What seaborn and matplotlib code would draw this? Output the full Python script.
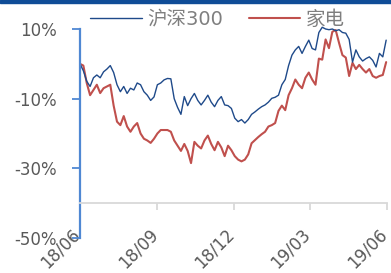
import numpy as np
import pandas as pd
import matplotlib
matplotlib.use("Agg")
import matplotlib.pyplot as plt
import matplotlib.dates as mdates
import matplotlib.transforms as mtransforms
from matplotlib.patches import Rectangle
import seaborn as sns

# 每4天一个观测点（从图中读取的累计涨跌幅，%）
dates = pd.date_range("2018-06-01", periods=92, freq="4D")

hs300 = [0, -2, -5, -6.5, -4, -3.2, -4, -2.3, -1.5, -0.5,
         -2.5, -6, -8, -6.5, -8.5, -7, -7.5, -5.5, -6, -8,
         -9, -10.5, -9.5, -6, -5.5, -4.6, -4.2, -4.3, -10, -12.5,
         -14.5, -9.4, -12, -10, -8.5, -10.5, -11.8, -10.5, -9, -11,
         -12.3, -10.5, -9.4, -11.8, -12, -12.8, -15.6, -16.6, -16, -17,
         -16, -14.5, -13.8, -13, -12.3, -11.8, -11, -9.9, -9.6, -9,
         -6, -4.5, -0.5, 2.5, 4, 5, 3, 5, 6.8, 4.4,
         4, 9, 10.5, 10, 9.8, 10, 9.5, 9.8, 9, 8.8,
         7, 0.5, 4, 2, 0.8, 1.5, 2, 1, -0.9, 3,
         2, 6.8]

jiadian = [0, -0.5, -5.5, -9, -7.5, -6, -8.4, -7, -6.5, -6,
           -12, -16.6, -17.6, -15, -18, -19.5, -18, -17, -20, -21.5,
           -22, -22.7, -21.5, -20, -19, -19, -19, -19.5, -22, -23.5,
           -25, -23, -25, -28.5, -22.4, -23.5, -24.3, -22, -20.6, -23,
           -24.8, -22.4, -24, -26.5, -23.5, -24.8, -26.5, -27.5, -28, -27.5,
           -26, -22.8, -21.9, -21, -20.2, -19.5, -18, -17.6, -17, -13.5,
           -12, -13.3, -9, -7, -4.5, -6, -7, -4, -2.5, -4.5,
           -6, 1.5, 1.2, 7, 4.5, 9.2, 9.7, 6, 2.5, 1.8,
           -3.5, 0.3, -1.5, -0.3, -1.5, -2.5, -1.5, -3.5, -4, -3.5,
           -3.2, 0.5]

series_names = ["沪深300", "家电"]
tick_dates = pd.to_datetime(["2018-06-01", "2018-09-01", "2018-12-01",
                             "2019-03-01", "2019-06-01"])
y_ticks = [-50, -30, -10, 10]

sns.set_style("white")
plt.rcParams["font.family"] = ["DejaVu Sans", "Noto Sans CJK SC"]

df = pd.DataFrame({"date": dates, series_names[0]: hs300, series_names[1]: jiadian})

fig = plt.figure(figsize=(3.91, 2.73), dpi=100)
ax = fig.add_axes([80 / 391, 35 / 273, 307 / 391, 209 / 273])

sns.lineplot(data=df, x="date", y=series_names[1], ax=ax, color="#C0504D",
             linewidth=1.5, label=series_names[1])
sns.lineplot(data=df, x="date", y=series_names[0], ax=ax, color="#1F4A8A",
             linewidth=1.0, label=series_names[0])
for ln in ax.lines:
    ln.set_clip_on(False)

ax.set_xlim(pd.Timestamp("2018-06-01"), pd.Timestamp("2019-06-01"))
ax.set_ylim(-50, 10)
ax.set_xlabel("")
ax.set_ylabel("")

# y轴：蓝色
ax.set_yticks(y_ticks)
ax.yaxis.set_major_formatter(matplotlib.ticker.FuncFormatter(lambda v, p: f"{v:.0f}%"))
ax.spines["left"].set_color("#4F88D3")
ax.spines["left"].set_linewidth(1.6)
ax.tick_params(axis="y", colors="#4F88D3", length=6, width=1.3, pad=11,
               labelsize=12, labelcolor="#595959", left=True)

# x轴：灰色，位于 -40%
ax.spines["bottom"].set_position(("data", -40))
ax.spines["bottom"].set_color("#D9D9D9")
ax.spines["bottom"].set_linewidth(1.3)
ax.spines["top"].set_visible(False)
ax.spines["right"].set_visible(False)
ax.set_xticks(tick_dates)
ax.xaxis.set_major_formatter(mdates.DateFormatter("%y/%m"))
ax.tick_params(axis="x", colors="#D9D9D9", length=5, width=1.3, pad=11,
               labelsize=12, labelcolor="#595959", bottom=True)
offset = mtransforms.ScaledTranslation(4 / 100, 0, fig.dpi_scale_trans)
for lab in ax.get_xticklabels():
    lab.set_rotation(45)
    lab.set_ha("right")
    lab.set_transform(lab.get_transform() + offset)

# 图例
handles, labels = ax.get_legend_handles_labels()
order = [labels.index(n) for n in series_names]
ax.get_legend().remove()
fig.legend([handles[i] for i in order], [labels[i] for i in order],
           loc="center left", bbox_to_anchor=(90 / 391, 1 - 19 / 273),
           ncol=2, frameon=False, fontsize=14, handlelength=2.66,
           handletextpad=0.3, columnspacing=1.3, borderpad=0, borderaxespad=0,
           labelcolor="#7F7F7F")

# 顶部蓝条
fig.add_artist(Rectangle((0, 1 - 3 / 273), 1, 3 / 273, transform=fig.transFigure,
                         color="#0F4C97", zorder=10))

fig.savefig("out.png", dpi=100)
plt.close(fig)
